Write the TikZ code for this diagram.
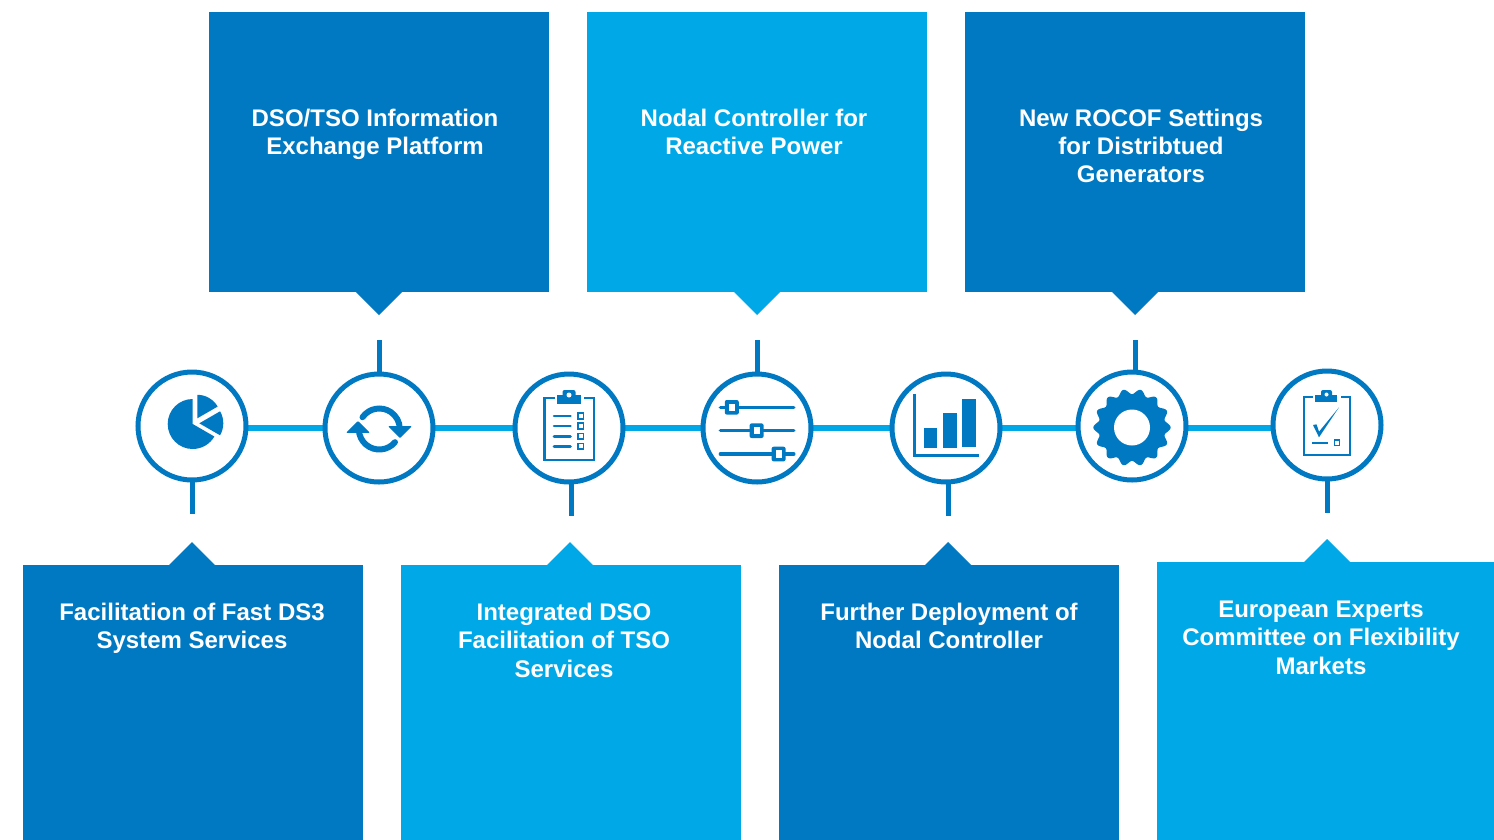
\documentclass[tikz,border=0pt]{standalone}
\usepackage{fontspec}
\setmainfont{Liberation Sans}
\definecolor{dk}{HTML}{0079C2}
\definecolor{lt}{HTML}{00A8E8}
\tikzset{
  x=1pt,y=-1pt,
  boxd/.style={fill=dk,draw=none,inner sep=0pt,minimum width=340pt,minimum height=280pt,anchor=north west},
  boxl/.style={boxd,fill=lt},
  lab/.style={text=white,font=\fontsize{24}{28.2}\selectfont\bfseries,align=center,anchor=north,inner sep=0pt},
  ring/.style={circle,draw=dk,line width=5pt,fill=white,minimum size=108pt,inner sep=0pt},
  link/.style={lt,line width=5.5pt},
  stem/.style={dk,line width=5pt},
  ic/.style={fill=dk,draw=none},
  il/.style={draw=dk,line width=2.8pt,fill=none},
  ir/.style={draw=dk,line width=3.4pt,line cap=round,fill=none},
  sq/.style={draw=dk,line width=1.7pt,fill=white}
}
\newcommand{\tipdown}[2]{\fill[#1] (#2)++(-23,-23)--++(46,0)--++(-23,23)--cycle;}
\newcommand{\tipup}[2]{\fill[#1] (#2)++(-23,23)--++(46,0)--++(-23,-23)--cycle;}
\newcommand{\slider}[2]{\draw[ir] (720.4,#2)--(793.8,#2);
  \fill[dk,rounded corners=2pt] (#1-7,#2-7.3) rectangle (#1+7,#2+7.3);
  \fill[white] (#1-3,#2-3.6) rectangle (#1+3,#2+3.6);}
\begin{document}
\begin{tikzpicture}
\useasboundingbox (0,0) rectangle (1494,839);
\fill[white] (0,0) rectangle (1494,839);
% boxes
\node[boxd] (bA) at (209,12) {};
\node[boxl] (bB) at (587,12) {};
\node[boxd] (bC) at (965,12) {};
\coordinate (tA) at (379,315); \coordinate (tB) at (757,315); \coordinate (tC) at (1135,315);
\tipdown{dk}{tA} \tipdown{lt}{tB} \tipdown{dk}{tC}
\begin{scope}
\clip (0,0) rectangle (1494,839);
\node[boxd,minimum height=290pt] (bD) at (23,565) {};
\node[boxl,minimum height=290pt] (bE) at (401,565) {};
\node[boxd,minimum height=290pt] (bF) at (779,565) {};
\node[boxl,minimum height=290pt] (bG) at (1157,562) {};
\end{scope}
\coordinate (tD) at (192,542); \coordinate (tE) at (570,542); \coordinate (tF) at (948,542); \coordinate (tG) at (1327,539);
\tipup{dk}{tD} \tipup{lt}{tE} \tipup{dk}{tF} \tipup{lt}{tG}
% texts
\node[lab] (lA) at (375,109) {DSO/TSO Information\\Exchange Platform};
\node[lab] (lB) at (754,109) {Nodal Controller for\\Reactive Power};
\node[lab] (lC) at (1141,109) {New ROCOF Settings\\for Distribtued\\Generators};
\node[lab] (lD) at (192,603) {Facilitation of Fast DS3\\System Services};
\node[lab] (lE) at (564,603) {Integrated DSO\\Facilitation of TSO\\Services};
\node[lab] (lF) at (949,603) {Further Deployment of\\Nodal Controller};
\node[lab] (lG) at (1321,601) {European Experts\\Committee on Flexibility\\Markets};
% free ends of stems
\coordinate (sA) at (379,340); \coordinate (sB) at (757,340); \coordinate (sC) at (1135,340);
\coordinate (sD) at (192,514); \coordinate (sE) at (571,516); \coordinate (sF) at (948,516); \coordinate (sG) at (1327,513);
% rings
\coordinate (c1) at (192,426); \coordinate (c2) at (379,428); \coordinate (c3) at (569,428);
\coordinate (c4) at (757,428); \coordinate (c5) at (946,428); \coordinate (c6) at (1132,426); \coordinate (c7) at (1327,425);
\draw[link] (192,428) -- (1327,428);
\draw[stem] (c2) -- (sA); \draw[stem] (c4) -- (sB); \draw[stem] (1135,426) -- (sC);
\draw[stem] (c1) -- (sD); \draw[stem] (571,428) -- (sE); \draw[stem] (948,428) -- (sF); \draw[stem] (c7) -- (sG);
\node[ring] (r1) at (c1) {}; \node[ring] (r2) at (c2) {}; \node[ring] (r3) at (c3) {};
\node[ring] (r4) at (c4) {}; \node[ring] (r5) at (c5) {}; \node[ring] (r6) at (c6) {}; \node[ring] (r7) at (c7) {};
% pie
\fill[ic] (192.7,424) -- (192.7,399) arc[start angle=-90,end angle=-330,radius=25] -- cycle;
\fill[ic] (197.3,418.3) -- ++(0,-23.5) arc[start angle=-90,end angle=-30,radius=23.5] -- cycle;
\fill[ic] (199.3,423.3) -- ++(-30:24) arc[start angle=-30,end angle=30,radius=24] -- cycle;
% refresh
\draw[dk,line width=6pt,line cap=round] (379.3,429) ++(-145:20.5) arc[start angle=-145,end angle=-2,radius=20.5];
\draw[dk,line width=6pt,line cap=round] (379.3,429) ++(40:20.5) arc[start angle=40,end angle=178,radius=20.5];
\fill[dk,rounded corners=1pt] (388,426.2)--(412,426.2)--(400,438.2)--cycle;
\fill[dk,rounded corners=1pt] (346,432.8)--(370,432.8)--(358,420.8)--cycle;
% clipboard 1
\draw[il] (554.5,398)--(544.3,398)--(544.3,460)--(594,460)--(594,398)--(583.5,398);
\fill[dk] (557.3,395) rectangle (580.7,403.5);
\fill[dk,rounded corners=2pt] (562.5,398)--(562.5,390)--(575.5,390)--(575.5,398)--cycle;
\fill[white] (569,395) circle[radius=2.5];
\foreach \yy in {416,426,436.3,446.3}{
  \draw[dk,line width=2.6pt,line cap=round] (554,\yy)--(570.5,\yy);
  \draw[sq] (577.8,\yy-2.8) rectangle (583.6,\yy+2.8);}
% sliders
\slider{731.8}{407.3}
\slider{756.6}{430.7}
\slider{778.6}{454}
% bar chart
\draw[dk,line width=3pt] (914.4,394)--(914.4,455.5)--(979,455.5);
\fill[ic] (923.6,428) rectangle (937.4,448);
\fill[ic] (943,413) rectangle (956.6,448);
\fill[ic] (962.4,399) rectangle (976.2,447);
% gear
\fill[ic] plot[domain=0:360,samples=281,smooth] ({1132+(36+2.6*cos(14*\x))*cos(\x)},{427.5+(36+2.6*cos(14*\x))*sin(\x)}) -- cycle;
\fill[white] (1132,427.5) circle[radius=18];
% clipboard 2
\draw[dk,line width=2.2pt] (1312.5,397)--(1304,397)--(1304,455)--(1349.7,455)--(1349.7,397)--(1341,397);
\fill[dk] (1315.3,395) rectangle (1337.3,401.7);
\fill[dk,rounded corners=2pt] (1321,397)--(1321,390)--(1332,390)--(1332,397)--cycle;
\fill[white] (1326.5,394.5) circle[radius=2];
\fill[dk] (1313,425)--(1316.5,424.3)--(1319,431.7)--(1339,407.3)--(1319,437.3)--cycle;
\draw[dk,line width=2.2pt] (1312,442.7)--(1327.7,442.7);
\draw[sq,line width=1.5pt] (1334.5,440) rectangle (1339.5,445.5);
\end{tikzpicture}
\end{document}
